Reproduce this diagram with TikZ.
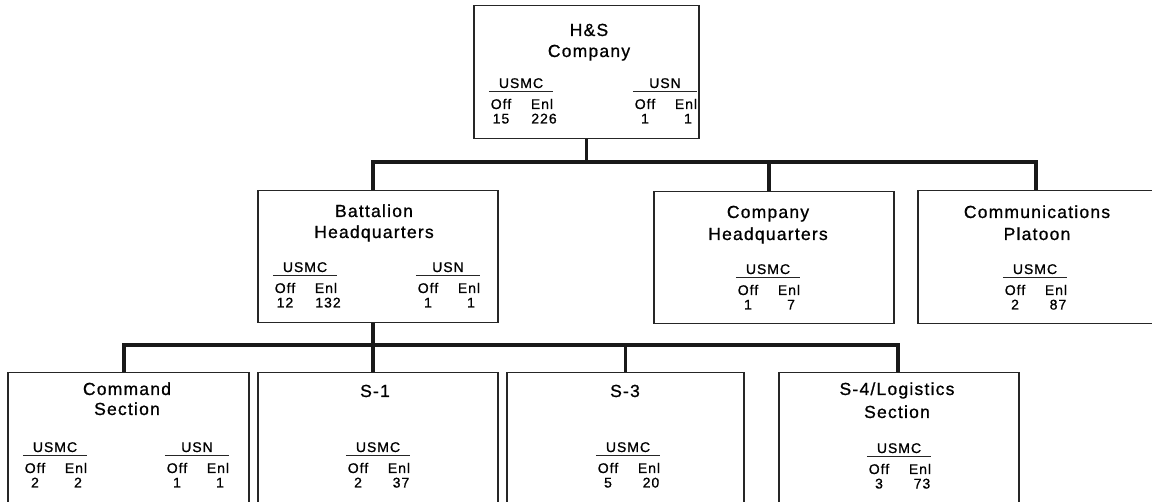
\documentclass[tikz,border=0pt]{standalone}
\usepackage{fontspec}
\setmainfont{Liberation Sans}[LetterSpace=7, FakeBold=0.9]
\usetikzlibrary{positioning}

% staff block: name, left x, label baseline y, label, officers, enlisted
\newcommand{\staffblock}[6]{%
  \node[lbl, minimum width=64] (#1) at (#2+32,#3) {#4};
  \draw[rule] ([yshift=-3.5pt]#1.base west) -- ([yshift=-3.5pt]#1.base east);
  \node[lbl] (#1-off) at (#2+12,#3+21) {Off};
  \node[lbl] (#1-enl) at (#2+53,#3+21) {Enl};
  \node[lbl] (#1-no)  at (#2+12,#3+35.5) {#5};
  \node[lbl] (#1-ne)  at (#2+55,#3+35.5) {#6};
}

\begin{document}
\begin{tikzpicture}[x=1pt, y=-1pt,
      unit/.style={draw=black!85, line width=1.5pt, inner sep=0pt, anchor=north west},
      head/.style={anchor=base, inner sep=0pt, font=\fontsize{17.5}{20}\selectfont},
      lbl/.style ={anchor=base, inner sep=0pt, font=\fontsize{14}{16}\selectfont},
      rule/.style={line width=1.2pt, black!85},
      link/.style={line width=3.5pt, black!90}
    ]
    \clip (0,0) rectangle (1152,502);

    % Boxes
    \node[unit, minimum width=225, minimum height=133] (hs)  at (473,5)   {};
    \node[unit, minimum width=240, minimum height=132] (bhq) at (257,190) {};
    \node[unit, minimum width=240, minimum height=132] (chq) at (653,191) {};
    \node[unit, minimum width=246, minimum height=133] (cp)  at (917,190) {};
    \node[unit, minimum width=241, minimum height=140] (cs)  at (7,372)   {};
    \node[unit, minimum width=240, minimum height=140] (s1)  at (257,372) {};
    \node[unit, minimum width=237, minimum height=140] (s3)  at (506,372) {};
    \node[unit, minimum width=240, minimum height=140] (s4)  at (778,372) {};

    % Upper tier connectors
    \coordinate (bus1) at (586,162);
    \draw[link] (hs.south) -- (hs.south |- bus1);
    \draw[link] ([xshift=-5pt]bhq.north) |- ([xshift=-5pt]cp.north |- bus1) -- ([xshift=-5pt]cp.north);
    \draw[link] ([xshift=-5pt]chq.north) -- ([xshift=-5pt]chq.north |- bus1);

    % Lower tier connectors
    \coordinate (bus2) at (372,345);
    \draw[link] ([xshift=-5pt]bhq.south) -- ([xshift=-5pt]s1.north);
    \draw[link] ([xshift=-4.5pt]cs.north) |- ([xshift=-1pt]s4.north |- bus2) -- ([xshift=-1pt]s4.north);
    \draw[link] (s3.north) -- (s3.north |- bus2);

    % H&S Company
    \node[head] (hs-t1) at (589,36) {H\&S};
    \node[head] (hs-t2) at (589,57) {Company};
    \staffblock{hs-mc}{489}{88}{USMC}{15}{226}
    \staffblock{hs-n}{633}{88}{USN}{1}{1}

    % Battalion Headquarters
    \node[head] (bhq-t1) at (374,217) {Battalion};
    \node[head] (bhq-t2) at (374,238) {Headquarters};
    \staffblock{bhq-mc}{273}{272}{USMC}{12}{132}
    \staffblock{bhq-n}{416}{272}{USN}{1}{1}

    % Company Headquarters
    \node[head] (chq-t1) at (768,218) {Company};
    \node[head] (chq-t2) at (768,240) {Headquarters};
    \staffblock{chq-mc}{736}{274}{USMC}{1}{7}

    % Communications Platoon
    \node[head] (cp-t1) at (1037,218) {Communications};
    \node[head] (cp-t2) at (1037,240) {Platoon};
    \staffblock{cp-mc}{1003}{274}{USMC}{2}{87}

    % Command Section
    \node[head] (cs-t1) at (127,395) {Command};
    \node[head] (cs-t2) at (127,415) {Section};
    \staffblock{cs-mc}{23}{452}{USMC}{2}{2}
    \staffblock{cs-n}{165}{452}{USN}{1}{1}

    % S-1
    \node[head] (s1-t1) at (375,397) {S-1};
    \staffblock{s1-mc}{346}{452}{USMC}{2}{37}

    % S-3
    \node[head] (s3-t1) at (625,397) {S-3};
    \staffblock{s3-mc}{596}{452}{USMC}{5}{20}

    % S-4/Logistics Section
    \node[head] (s4-t1) at (897,395) {S-4/Logistics};
    \node[head] (s4-t2) at (897,418) {Section};
    \staffblock{s4-mc}{867}{453}{USMC}{3}{73}
  \end{tikzpicture}
\end{document}
